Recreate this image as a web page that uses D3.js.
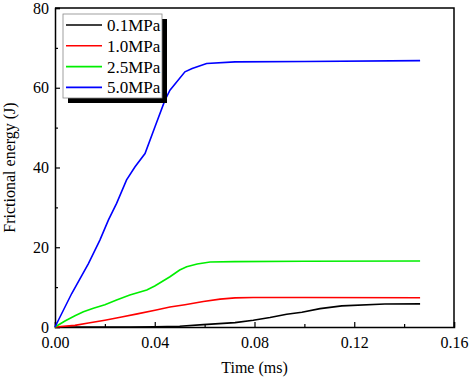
<!DOCTYPE html>
<html>
<head>
<meta charset="utf-8">
<script src="https://cdn.jsdelivr.net/npm/d3@7"></script>
<style>
  body { margin: 0; background: #fff; }
  text { font-family: "Liberation Serif", "Times New Roman", serif; }
</style>
</head>
<body>
<div id="chart"></div>
<script>
// series data (time in ms, frictional energy in J)
var series01 = [[0, 0], [0.03, 0], [0.04, 0.05], [0.05, 0.2], [0.0595, 0.6], [0.0722, 1.1], [0.0795, 1.7], [0.0862, 2.4], [0.0929, 3.2], [0.099, 3.7], [0.1063, 4.6], [0.115, 5.3], [0.1323, 5.75], [0.1464, 5.8]];
var series10 = [[0, 0], [0.008, 0.4], [0.0134, 1.0], [0.02, 1.7], [0.0267, 2.5], [0.033, 3.3], [0.0401, 4.2], [0.0461, 5.0], [0.0521, 5.6], [0.0595, 6.4], [0.0662, 7.0], [0.0722, 7.3], [0.0795, 7.4], [0.1, 7.4], [0.1464, 7.35]];
var series25 = [[0, 0], [0.004, 1.5], [0.008, 2.8], [0.0114, 3.8], [0.0154, 4.7], [0.02, 5.6], [0.0247, 6.8], [0.03, 8.0], [0.0368, 9.3], [0.04, 10.3], [0.0461, 12.6], [0.05, 14.3], [0.0528, 15.1], [0.057, 15.8], [0.0622, 16.3], [0.072, 16.4], [0.1, 16.5], [0.1464, 16.55]];
var series50 = [[0, 0], [0.0067, 8.4], [0.0134, 15.9], [0.018, 21.8], [0.0214, 26.8], [0.0247, 31], [0.0287, 36.9], [0.0321, 40.2], [0.0361, 43.5], [0.0401, 50.2], [0.0441, 56.9], [0.0461, 59.4], [0.0521, 64], [0.055, 64.8], [0.0608, 66.1], [0.0722, 66.5], [0.1, 66.6], [0.1464, 66.8]];

var seriesNames = ["0.1MPa", "1.0MPa", "2.5MPa", "5.0MPa"];
var seriesColors = ["#000000", "#ff0000", "#00ee00", "#0000ff"];
var xTicks = [0, 0.04, 0.08, 0.12, 0.16];
var yTicks = [0, 20, 40, 60, 80];

var allSeries = [series01, series10, series25, series50];

var margin = { top: 8, right: 16, bottom: 53, left: 55 },
    width = 470 - margin.left - margin.right,
    height = 380 - margin.top - margin.bottom;

var svg = d3.select("#chart")
    .append("svg")
    .attr("width", 470)
    .attr("height", 380)
    .append("g")
    .attr("transform", "translate(" + margin.left + "," + margin.top + ")");

var x = d3.scaleLinear().domain([0, 0.16]).range([0, width]);
var y = d3.scaleLinear().domain([0, 80]).range([height, 0]);

// frame (top and right)
svg.append("path")
    .attr("d", "M0,0H" + width + "V" + height)
    .attr("fill", "none")
    .attr("stroke", "#000")
    .attr("stroke-width", 1.5);

// minor ticks
svg.append("g")
    .attr("transform", "translate(0," + height + ")")
    .call(d3.axisBottom(x).tickValues(d3.range(0.02, 0.16, 0.04)).tickSize(-3).tickFormat(""))
    .call(function (g) { g.select(".domain").remove(); });
svg.append("g")
    .call(d3.axisLeft(y).tickValues(d3.range(10, 80, 20)).tickSize(-3).tickFormat(""))
    .call(function (g) { g.select(".domain").remove(); });

// x axis
var gx = svg.append("g")
    .attr("transform", "translate(0," + height + ")")
    .call(d3.axisBottom(x).tickValues(xTicks).tickSize(-5).tickPadding(10).tickFormat(d3.format(".2f")));
gx.selectAll("text").style("font-size", "16px").attr("fill", "#000");

// y axis
var gy = svg.append("g")
    .call(d3.axisLeft(y).tickValues(yTicks).tickSize(-5).tickPadding(6).tickFormat(d3.format("d")));
gy.selectAll("text").style("font-size", "16px").attr("fill", "#000");

svg.selectAll(".domain").attr("stroke-width", 1.5);
svg.selectAll(".tick line").attr("stroke-width", 1.2);

// axis labels
svg.append("text")
    .attr("x", width / 2)
    .attr("y", height + 46)
    .attr("text-anchor", "middle")
    .style("font-size", "16px")
    .text("Time (ms)");

svg.append("text")
    .attr("transform", "translate(-40," + (height / 2) + ") rotate(-90)")
    .attr("text-anchor", "middle")
    .style("font-size", "16px")
    .text("Frictional energy (J)");

// lines
var line = d3.line()
    .x(function (d) { return x(d[0]); })
    .y(function (d) { return y(d[1]); });

svg.selectAll(".series")
    .data(allSeries)
    .join("path")
    .attr("class", "series")
    .attr("fill", "none")
    .attr("stroke", function (d, i) { return seriesColors[i]; })
    .attr("stroke-width", 1.6)
    .attr("d", line);

// legend
var legend = svg.append("g").attr("transform", "translate(8,6)");
legend.append("rect")
    .attr("x", 5).attr("y", 5)
    .attr("width", 99).attr("height", 84)
    .attr("fill", "#000");
legend.append("rect")
    .attr("x", 0).attr("y", 0)
    .attr("width", 99).attr("height", 84)
    .attr("fill", "#fff")
    .attr("stroke", "#888")
    .attr("stroke-width", 0.8);

var rows = legend.selectAll(".row")
    .data(seriesNames)
    .join("g")
    .attr("class", "row")
    .attr("transform", function (d, i) { return "translate(0," + (11 + i * 20.8) + ")"; });
rows.append("line")
    .attr("x1", 3).attr("x2", 39)
    .attr("stroke", function (d, i) { return seriesColors[i]; })
    .attr("stroke-width", 1.6);
rows.append("text")
    .attr("x", 44)
    .attr("y", 6)
    .style("font-size", "17px")
    .text(function (d) { return d; });
</script>
</body>
</html>
